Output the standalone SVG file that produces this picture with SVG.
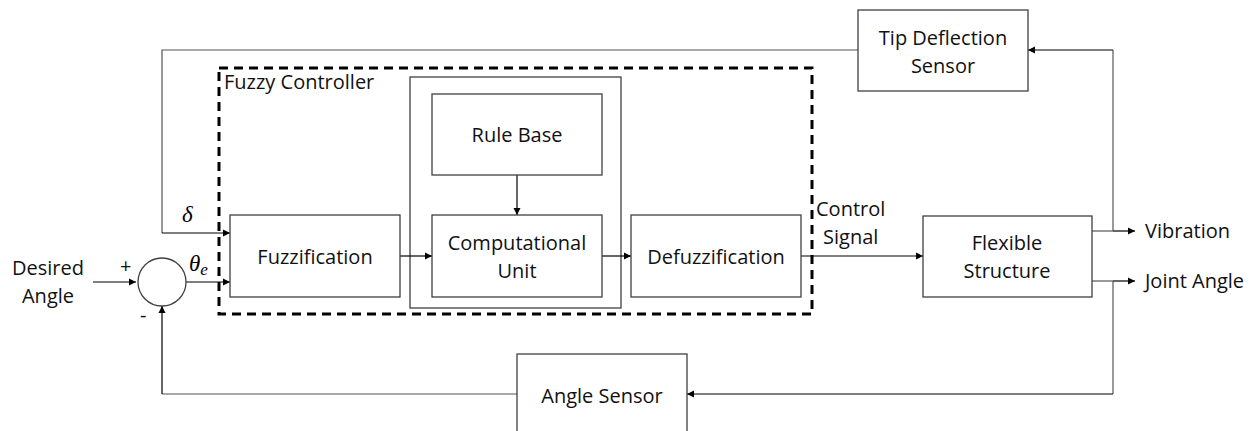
<svg xmlns="http://www.w3.org/2000/svg" width="1260" height="431" viewBox="0 0 1260 431">
<defs>
<marker id="arr" markerWidth="8" markerHeight="8" refX="7" refY="4" orient="auto" markerUnits="userSpaceOnUse">
<path d="M0,0.5 L7,4 L0,7.5 Z" fill="#000"/>
</marker>
<style>
.box{fill:#fff;stroke:#404040;stroke-width:1.3}
.t{font-family:"Open Sans","Liberation Sans",Arial,sans-serif;font-size:20px;fill:#111;text-anchor:middle}
.tl{font-family:"Open Sans","Liberation Sans",Arial,sans-serif;font-size:20px;fill:#111}
.m{font-family:"Liberation Serif","Times New Roman",serif;font-style:italic;fill:#000}
.c{fill:none;stroke:#000;stroke-width:1.2}
.cg{fill:none;stroke:#555;stroke-width:1.2}
</style>
</defs>
<rect width="1260" height="431" fill="#fff"/>

<g id="fuzzy-controller">
<rect x="219" y="68" width="593" height="246" fill="none" stroke="#000" stroke-width="3" stroke-dasharray="9,6"/>
<text class="tl" x="224" y="89">Fuzzy Controller</text>
</g>

<g id="inference-group">
<rect class="box" x="410" y="77" width="211" height="231"/>
</g>

<g id="connectors">
<path class="c" d="M93,282 H136" marker-end="url(#arr)"/>
<path class="c" d="M186,282 H230" marker-end="url(#arr)"/>
<path class="cg" d="M858,50 H162 V233"/>
<path class="c" d="M162,233 H230" marker-end="url(#arr)"/>
<path class="c" d="M400,256 H432" marker-end="url(#arr)"/>
<path class="c" d="M517,175 V215" marker-end="url(#arr)"/>
<path class="c" d="M602,256 H631" marker-end="url(#arr)"/>
<path class="c" d="M801,256 H923" marker-end="url(#arr)"/>
<path class="cg" d="M1092,231 H1113"/>
<path class="c" d="M1113,231 H1135" marker-end="url(#arr)"/>
<path class="cg" d="M1113,231 V50"/>
<path class="c" d="M1113,50 H1028" marker-end="url(#arr)"/>
<path class="cg" d="M1092,281 H1113"/>
<path class="c" d="M1113,281 H1135" marker-end="url(#arr)"/>
<path class="cg" d="M1113,281 V394"/>
<path class="c" d="M1113,394 H687" marker-end="url(#arr)"/>
<path class="cg" d="M517,394 H162"/>
<path class="c" d="M162,394 V306" marker-end="url(#arr)"/>
</g>

<g id="summing-junction">
<circle cx="162" cy="282" r="24" fill="#fff" stroke="#404040" stroke-width="1.3"/>
<text class="tl" x="120" y="273">+</text>
<text class="tl" x="140" y="322">-</text>
</g>

<g id="desired-angle">
<text class="t" x="48" y="275">Desired</text>
<text class="t" x="48" y="303">Angle</text>
</g>

<g id="signals">
<text class="m" x="182" y="222" font-size="23">δ</text>
<text class="m" x="189" y="271" font-size="23">θ<tspan font-size="17" dy="4">e</tspan></text>
<text class="tl" x="816" y="216">Control</text>
<text class="tl" x="823" y="244">Signal</text>
</g>

<g id="fuzzification">
<rect class="box" x="230" y="215" width="170" height="82"/>
<text class="t" x="315" y="264">Fuzzification</text>
</g>

<g id="rule-base">
<rect class="box" x="432" y="94" width="170" height="81"/>
<text class="t" x="517" y="142">Rule Base</text>
</g>

<g id="computational-unit">
<rect class="box" x="432" y="215" width="170" height="82"/>
<text class="t" x="517" y="250">Computational</text>
<text class="t" x="517" y="278">Unit</text>
</g>

<g id="defuzzification">
<rect class="box" x="631" y="215" width="170" height="82"/>
<text class="t" x="716" y="264">Defuzzification</text>
</g>

<g id="flexible-structure">
<rect class="box" x="923" y="216" width="169" height="81"/>
<text class="t" x="1007" y="250">Flexible</text>
<text class="t" x="1007" y="278">Structure</text>
</g>

<g id="tip-deflection-sensor">
<rect class="box" x="858" y="10" width="170" height="81"/>
<text class="t" x="943" y="45">Tip Deflection</text>
<text class="t" x="943" y="73">Sensor</text>
</g>

<g id="angle-sensor">
<rect class="box" x="517" y="354" width="170" height="90"/>
<text class="t" x="602" y="403">Angle Sensor</text>
</g>

<g id="outputs">
<text class="tl" x="1145" y="238">Vibration</text>
<text class="tl" x="1145" y="288">Joint Angle</text>
</g>
</svg>
